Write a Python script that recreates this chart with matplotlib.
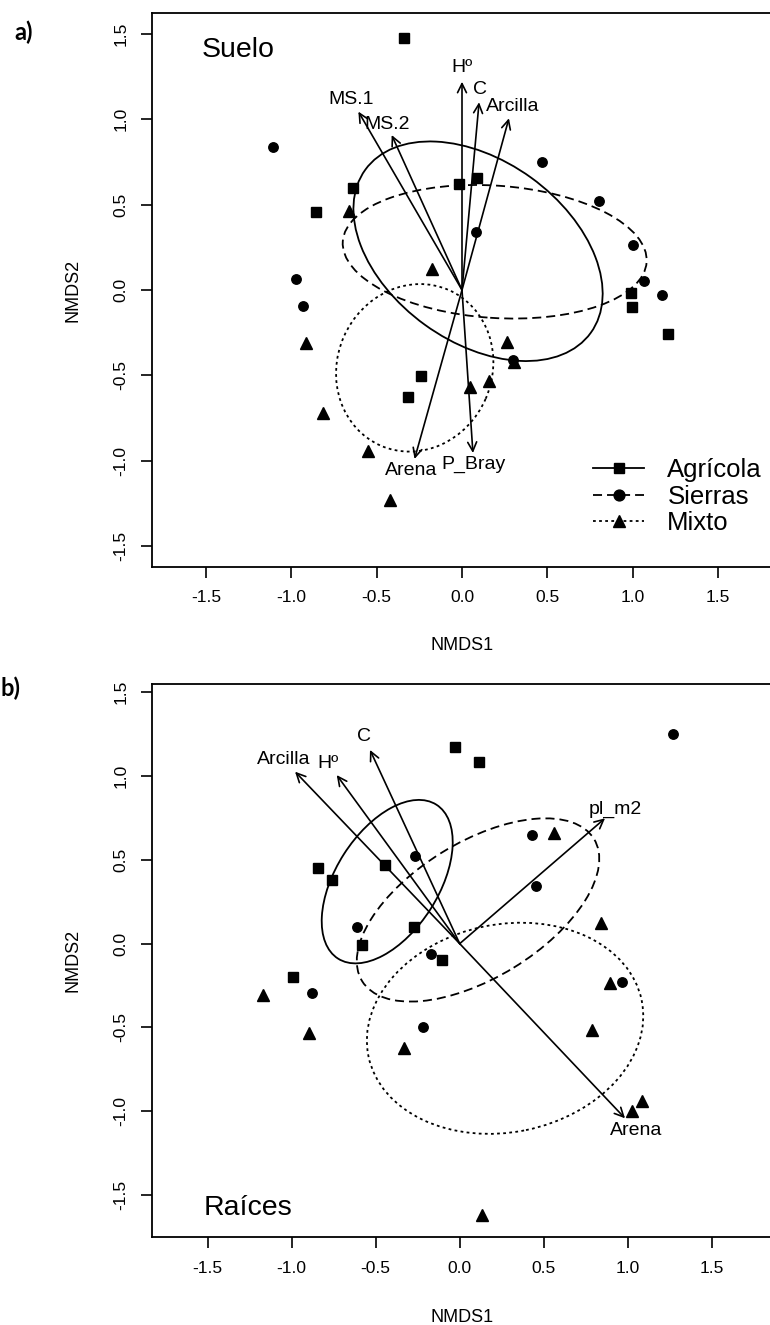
import numpy as np
import matplotlib
matplotlib.use('Agg')
import matplotlib.pyplot as plt
from matplotlib.patches import Ellipse
from matplotlib.lines import Line2D

plt.rcParams['font.family'] = ['Liberation Sans', 'DejaVu Sans']
plt.rcParams['axes.unicode_minus'] = False
plt.rcParams['lines.scale_dashes'] = False

groups = ['Agrícola', 'Sierras', 'Mixto']
ticks = [-1.5, -1.0, -0.5, 0.0, 0.5, 1.0, 1.5]

# ---- a) Suelo: site scores per group ----
suelo_agr_x = [-0.34, -0.64, -0.857, -0.02, 0.09, 0.988, 0.994, 1.205, -0.242, -0.314]
suelo_agr_y = [1.474, 0.60, 0.455, 0.62, 0.654, -0.02, -0.10, -0.258, -0.506, -0.629]
suelo_sie_x = [-1.109, -0.972, -0.933, 0.47, 0.80, 1.004, 1.064, 1.17, 0.082, 0.297]
suelo_sie_y = [0.838, 0.063, -0.092, 0.752, 0.52, 0.262, 0.051, -0.031, 0.338, -0.41]
suelo_mix_x = [-0.662, -0.178, -0.916, -0.816, -0.553, -0.422, 0.262, 0.307, 0.047, 0.158]
suelo_mix_y = [0.465, 0.125, -0.309, -0.722, -0.941, -1.23, -0.303, -0.42, -0.57, -0.533]

# envfit vectors
suelo_vec_names = ['MS.1', 'MS.2', 'Hº', 'C', 'Arcilla', 'Arena', 'P_Bray']
suelo_vec_x = [-0.607, -0.412, 0.0, 0.10, 0.275, -0.278, 0.064]
suelo_vec_y = [1.045, 0.908, 1.22, 1.10, 1.006, -0.99, -0.955]

# ordiellipse: centre x, centre y, width, height, angle
suelo_ell_cx = [0.094, 0.1915, -0.277]
suelo_ell_cy = [0.227, 0.224, -0.456]
suelo_ell_w = [1.63, 1.784, 0.995]
suelo_ell_h = [1.063, 0.775, 0.907]
suelo_ell_ang = [-35.9, -3.9, 66.5]

# ---- b) Raíces ----
raiz_agr_x = [-0.845, -0.758, -0.445, -0.583, -0.99, -0.03, 0.115, -0.274, -0.107]
raiz_agr_y = [0.453, 0.38, 0.47, -0.008, -0.197, 1.174, 1.082, 0.101, -0.097]
raiz_sie_x = [1.27, 0.432, 0.452, -0.266, -0.171, 0.968, -0.611, -0.881, -0.22]
raiz_sie_y = [1.249, 0.647, 0.344, 0.525, -0.063, -0.23, 0.098, -0.292, -0.495]
raiz_mix_x = [0.56, 0.841, 0.895, 0.79, -0.331, 1.027, 1.083, 0.133, -1.169, -0.895]
raiz_mix_y = [0.662, 0.125, -0.236, -0.515, -0.624, -0.996, -0.937, -1.619, -0.306, -0.531]

raiz_vec_names = ['Arcilla', 'Hº', 'C', 'pl_m2', 'Arena']
raiz_vec_x = [-0.98, -0.732, -0.534, 0.865, 0.984]
raiz_vec_y = [1.026, 1.006, 1.156, 0.748, -1.042]

raiz_ell_cx = [-0.4315, 0.109, 0.27]
raiz_ell_cy = [0.370, 0.201, -0.505]
raiz_ell_w = [1.089, 1.62, 1.66]
raiz_ell_h = [0.611, 0.809, 1.24]
raiz_ell_ang = [57.5, 31.6, 11.6]

markers = ['s', 'o', '^']
msizes = [6.8, 6.8, 8.2]
lstyles = ['-', (0, (6.5, 3.6)), (0, (2.0, 2.4))]

W, H = 770, 1325


def draw_panel(ax, pts, vec, ell, xlim, ylim):
    for (x, y), m, ms in zip(pts, markers, msizes):
        ax.plot(x, y, linestyle='none', marker=m, markersize=ms,
                color='black', zorder=3)
    names, vx, vy = vec
    for n, x, y in zip(names, vx, vy):
        ax.annotate('', xy=(x, y), xytext=(0, 0),
                    arrowprops=dict(arrowstyle='->,head_length=0.65,head_width=0.32',
                                    lw=1.2, color='black', shrinkA=0, shrinkB=0,
                                    mutation_scale=10))
        ax.text(x * 1.07, y * 1.07, n, fontsize=14, ha='center', va='center')
    cx, cy, ew, eh, ea = ell
    for i in range(3):
        ax.add_patch(Ellipse((cx[i], cy[i]), ew[i], eh[i], angle=ea[i],
                             fill=False, lw=1.3, ls=lstyles[i], ec='black'))
    ax.set_xlim(*xlim)
    ax.set_ylim(*ylim)
    ax.set_xticks(ticks)
    ax.set_yticks(ticks)
    ax.set_xticklabels([f'{t:.1f}' for t in ticks])
    ax.set_yticklabels([f'{t:.1f}' for t in ticks])
    ax.tick_params(direction='out', length=8, width=1.2, labelsize=12.5, pad=9)
    ax.tick_params(axis='y', labelrotation=90)
    for lab in ax.get_yticklabels():
        lab.set_va('center')
    for s in ax.spines.values():
        s.set_linewidth(1.3)
    ax.set_xlabel('NMDS1', fontsize=13)
    ax.set_ylabel('NMDS2', fontsize=13)
    ax.xaxis.label.set_va('center')
    ax.yaxis.label.set_va('center')


fig = plt.figure(figsize=(W / 100, H / 100), dpi=100)

# panel a
ax1 = fig.add_axes([152 / W, (H - 566.7) / H, 620 / W, 553.4 / H])
draw_panel(ax1,
           [(suelo_agr_x, suelo_agr_y), (suelo_sie_x, suelo_sie_y),
            (suelo_mix_x, suelo_mix_y)],
           (suelo_vec_names, suelo_vec_x, suelo_vec_y),
           (suelo_ell_cx, suelo_ell_cy, suelo_ell_w, suelo_ell_h, suelo_ell_ang),
           (-1.816, 1.816), (-1.621, 1.621))
ax1.xaxis.set_label_coords(0.5, -78.3 / 553.4)
ax1.yaxis.set_label_coords(-79 / 620, 0.5)
ax1.text(-1.525, 1.363, 'Suelo', fontsize=20.5, ha='left', va='baseline')

handles = [Line2D([], [], color='black', lw=1.3, ls=ls, marker=m, markersize=ms + 1)
           for ls, m, ms in zip(lstyles, markers, msizes)]
ax1.legend(handles, groups, loc='upper left', bbox_to_anchor=(0.711, 0.196),
           frameon=False, fontsize=18.5, handlelength=2.0, handletextpad=0.9,
           labelspacing=0.1, borderpad=0, borderaxespad=0)

# panel b
ax2 = fig.add_axes([152 / W, (H - 1237.3) / H, 620.2 / W, 553.6 / H])
draw_panel(ax2,
           [(raiz_agr_x, raiz_agr_y), (raiz_sie_x, raiz_sie_y),
            (raiz_mix_x, raiz_mix_y)],
           (raiz_vec_names, raiz_vec_x, raiz_vec_y),
           (raiz_ell_cx, raiz_ell_cy, raiz_ell_w, raiz_ell_h, raiz_ell_ang),
           (-1.8315, 1.86), (-1.752, 1.551))
ax2.xaxis.set_label_coords(0.5, -79.7 / 553.6)
ax2.yaxis.set_label_coords(-79 / 620.2, 0.5)
ax2.text(-1.526, -1.619, 'Raíces', fontsize=20.5, ha='left', va='baseline')

fig.text(24 / W, 1 - 32 / H, 'a)', fontsize=17, fontweight='bold',
         family=['Lato', 'DejaVu Sans'], ha='center', va='center')
fig.text(11 / W, 1 - 688 / H, 'b)', fontsize=17, fontweight='bold',
         family=['Lato', 'DejaVu Sans'], ha='center', va='center')

fig.savefig('out.png', dpi=100)
